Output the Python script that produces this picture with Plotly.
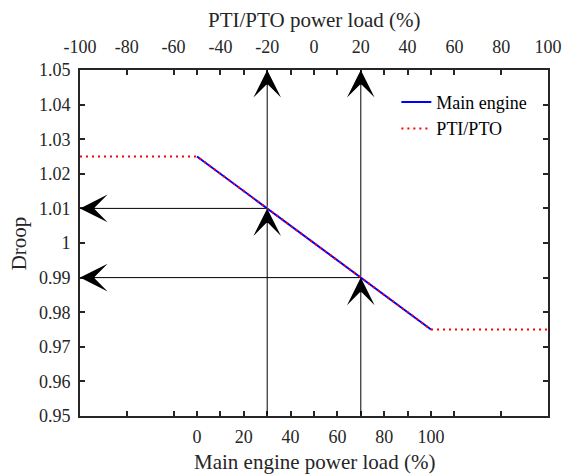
import plotly.graph_objects as go

# Data
main_x = [0, 100]              # Main engine power load (%)
main_y = [1.025, 0.975]
pti_x = [-100, -50, 50, 100]   # PTI/PTO power load (%)
pti_y = [1.025, 1.025, 0.975, 0.975]

arrow_x = [30, 70]             # main-engine load where droop is read
arrow_y = [1.01, 0.99]

bottom_ticks = [0, 20, 40, 60, 80, 100]
bottom_ticktext = ["0", "20", "40", "60", "80", "100"]
top_ticks = [-100, -80, -60, -40, -20, 0, 20, 40, 60, 80, 100]
top_ticktext = ["-100", "-80", "-60", "-40", "-20", "0", "20", "40", "60", "80", "100"]
y_ticks = [0.95, 0.96, 0.97, 0.98, 0.99, 1.00, 1.01, 1.02, 1.03, 1.04, 1.05]
y_ticktext = ["0.95", "0.96", "0.97", "0.98", "0.99", "1", "1.01", "1.02", "1.03", "1.04", "1.05"]

x_range = [-50, 150]
x2_range = [-100, 100]
y_range = [0.95, 1.05]

FONT = "Liberation Serif, Times New Roman, serif"
AX = "#262626"
TICKFONT = dict(family=FONT, size=18, color=AX)

fig = go.Figure()
fig.add_trace(go.Scatter(x=main_x, y=main_y, mode="lines", name="Main engine",
                         line=dict(color="#0000ff", width=2), xaxis="x", yaxis="y"))
fig.add_trace(go.Scatter(x=pti_x, y=pti_y, mode="lines", name="PTI/PTO",
                         line=dict(color="#ff0000", width=2, dash="2px,4px"), xaxis="x2", yaxis="y"))

anns = []
for xv, yv in zip(arrow_x, arrow_y):
    common = dict(xref="x", yref="y", axref="x", ayref="y", text="", showarrow=True,
                  arrowhead=3, arrowsize=4.6, arrowwidth=1, arrowcolor="black", standoff=0)
    # from bottom up to the curve
    anns.append(dict(x=xv, y=yv, ax=xv, ay=y_range[0], **common))
    # from the curve up to the top axis
    anns.append(dict(x=xv, y=y_range[1], ax=xv, ay=yv, **common))
    # from the curve left to the droop axis
    anns.append(dict(x=x_range[0], y=yv, ax=xv, ay=yv, **common))

# axis titles
anns.append(dict(xref="paper", yref="paper", x=0.5, y=1 + 50 / 346, xanchor="center",
                 yanchor="middle", text="PTI/PTO power load (%)", showarrow=False,
                 font=dict(family=FONT, size=21, color=AX)))
anns.append(dict(xref="paper", yref="paper", x=0.5, y=-46 / 346, xanchor="center",
                 yanchor="middle", text="Main engine power load (%)", showarrow=False,
                 font=dict(family=FONT, size=21, color=AX)))
anns.append(dict(xref="paper", yref="paper", x=-62 / 478, y=0.5, xanchor="center",
                 yanchor="middle", text="Droop", textangle=-90, showarrow=False,
                 font=dict(family=FONT, size=21, color=AX)))

fig.update_layout(
    width=574, height=475,
    margin=dict(l=80, r=16, t=70, b=59),
    paper_bgcolor="white", plot_bgcolor="white",
    font=dict(family=FONT, size=18, color=AX),
    showlegend=True,
    legend=dict(x=0.676, y=0.96, xanchor="left", yanchor="top",
                bgcolor="rgba(0,0,0,0)", font=dict(family=FONT, size=18, color="black"),
                tracegroupgap=0),
    xaxis=dict(range=x_range, tickvals=bottom_ticks, ticktext=bottom_ticktext,
               ticks="inside", ticklen=5, tickwidth=1.5, ticklabelstandoff=3, tickfont=TICKFONT,
               tickcolor=AX, showline=True, linecolor=AX, linewidth=2, mirror="ticks",
               showgrid=False, zeroline=False),
    xaxis2=dict(range=x2_range, tickvals=top_ticks, ticktext=top_ticktext, overlaying="x",
                side="top", anchor="y", ticklabelstandoff=8, tickfont=TICKFONT,
                ticks="inside", ticklen=5, tickwidth=1.5, tickcolor=AX,
                showline=True, linecolor=AX, linewidth=2, mirror="ticks",
                showgrid=False, zeroline=False),
    yaxis=dict(range=y_range, tickvals=y_ticks, ticktext=y_ticktext, ticks="inside", ticklen=5,
               tickwidth=1.5, tickcolor=AX, showline=True, linecolor=AX, linewidth=2,
               ticklabelstandoff=4, tickfont=TICKFONT,
               mirror="ticks", showgrid=False, zeroline=False),
    annotations=anns,
)

fig.write_html("out.html")
